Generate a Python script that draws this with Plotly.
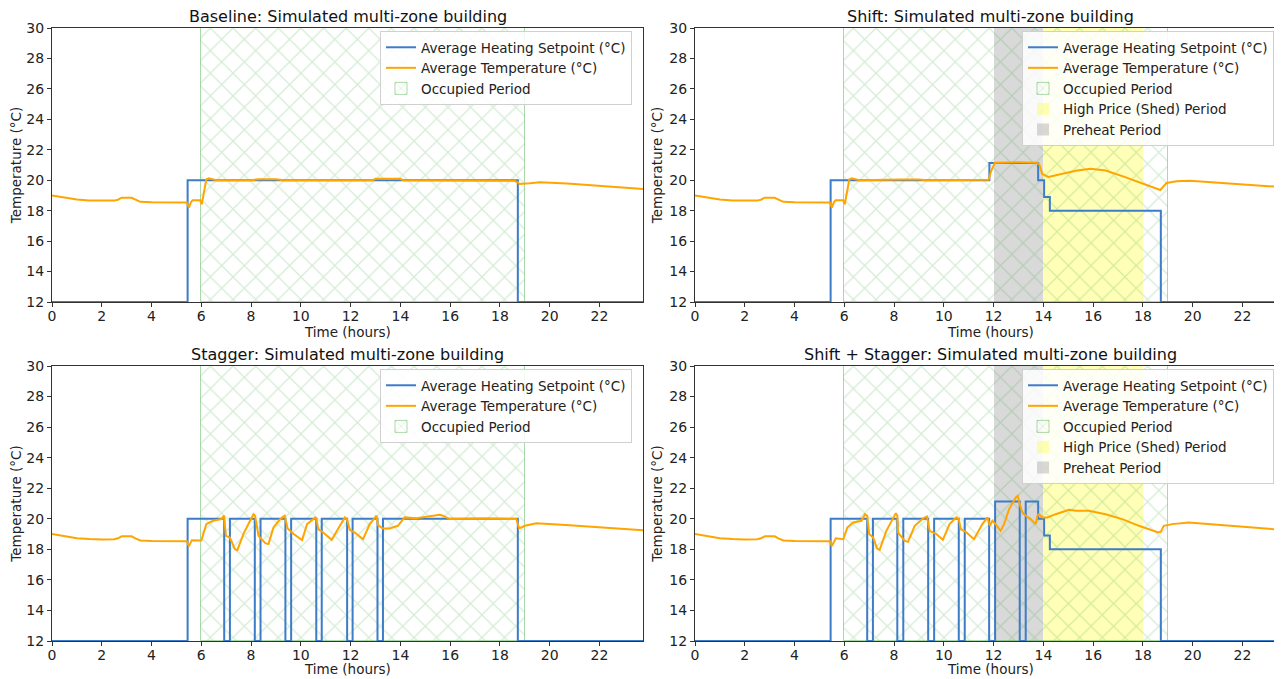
import plotly.graph_objects as go

# ---------------- data ----------------
panel_titles = [
    "Baseline: Simulated multi-zone building",
    "Shift: Simulated multi-zone building",
    "Stagger: Simulated multi-zone building",
    "Shift + Stagger: Simulated multi-zone building",
]
x_title = "Time (hours)"
y_title = "Temperature (°C)"

x_ticks = [0, 2, 4, 6, 8, 10, 12, 14, 16, 18, 20, 22]
y_ticks = [12, 14, 16, 18, 20, 22, 24, 26, 28, 30]

# periods (hours)
occupied_period = [6, 19]
shed_period = [14, 18]
preheat_period = [12, 14]

# Setpoint step series (value holds until next time)
baseline_sp_t = [0, 5.45, 18.72, 23.75]
baseline_sp_v = [12, 20, 12, 12]

shift_sp_t = [0, 5.45, 11.83, 13.79, 14.03, 14.26, 18.72, 23.75]
shift_sp_v = [12, 20, 21.13, 20, 18.9, 18.0, 12, 12]

stagger_sp_t = [0, 5.45, 6.92, 7.15, 8.15, 8.38, 9.38, 9.61, 10.62, 10.84,
                11.86, 12.08, 13.08, 13.3, 18.72, 23.75]
stagger_sp_v = [12, 20, 12, 20, 12, 20, 12, 20, 12, 20, 12, 20, 12, 20, 12, 12]

shiftstagger_sp_t = [0, 5.45, 6.92, 7.15, 8.13, 8.37, 9.37, 9.61, 10.6, 10.84,
                     11.82, 12.06, 13.05, 13.29, 13.79, 14.03, 14.26, 18.72, 23.75]
shiftstagger_sp_v = [12, 20, 12, 20, 12, 20, 12, 20, 12, 20, 12, 21.13, 12, 21.13,
                     20, 18.9, 18.0, 12, 12]

# Average temperature - night part shared by all scenarios
night_t = [0, 0.5, 1.0, 1.5, 2.0, 2.5, 2.65, 2.8, 3.2, 3.35, 3.55, 4.0, 4.5, 5.0, 5.42]
night_v = [19.0, 18.85, 18.73, 18.67, 18.64, 18.66, 18.72, 18.85, 18.85, 18.72,
           18.58, 18.55, 18.54, 18.54, 18.53]

# morning warm-up without staggering (baseline and shift)
morning_t = [5.5, 5.58, 5.65, 5.95, 6.02, 6.12, 6.2, 6.3, 6.45]
morning_v = [18.2, 18.55, 18.68, 18.68, 18.42, 19.4, 20.05, 20.12, 20.05]

baseline_day_t = [6.6, 8.0, 8.3, 9.0, 9.3, 12.0, 12.9, 13.0, 14.0, 14.1, 17.0, 17.5,
                  18.6, 18.72, 18.78, 19.2, 19.6, 20.7, 23.75]
baseline_day_v = [20.0, 20.0, 20.06, 20.06, 20.0, 20.0, 20.0, 20.09, 20.09, 20.0, 20.0,
                  19.96, 19.96, 19.85, 19.76, 19.8, 19.86, 19.78, 19.42]

shift_day_t = [6.6, 8.3, 9.0, 9.3, 11.8, 11.9, 12.05, 13.0, 13.75, 13.85, 13.95, 14.2,
               14.6, 15.3, 15.9, 16.5, 17.2, 17.9, 18.7, 18.8, 18.95, 19.35, 19.9, 23.75]
shift_day_v = [20.0, 20.05, 20.05, 20.0, 20.03, 20.6, 21.15, 21.18, 21.15, 21.0, 20.4,
               20.22, 20.36, 20.62, 20.75, 20.64, 20.25, 19.82, 19.36, 19.55, 19.82,
               19.93, 19.97, 19.53]

stagger_day_t = [5.5, 5.62, 6.0, 6.2, 6.47, 6.81, 6.91, 6.99, 7.15, 7.35,
                 7.45, 7.69, 7.96, 8.1, 8.16, 8.3, 8.57, 8.7, 8.9, 9.17,
                 9.35, 9.47, 9.71, 9.98, 10.05, 10.25, 10.58, 10.63, 10.7, 10.9,
                 11.24, 11.57, 11.77, 11.86, 11.97, 12.17, 12.5, 12.77, 13.04, 13.1,
                 13.3, 13.57, 13.9, 14.17, 14.64, 15.58, 15.71, 15.98, 17.32, 18.66,
                 18.77, 19.0, 19.47, 20.8, 23.75]
stagger_day_v = [18.19, 18.6, 18.58, 19.65, 19.87, 19.98, 20.2, 18.88, 18.77, 18.01,
                 17.95, 19.0, 19.87, 20.3, 20.2, 18.88, 18.4, 18.34, 19.43, 19.98,
                 20.2, 19.37, 19.0, 18.66, 18.6, 19.65, 20.09, 19.98, 19.32, 19.1,
                 18.62, 19.54, 20.09, 19.94, 19.26, 19.1, 18.66, 19.65, 20.2, 19.58,
                 19.37, 19.37, 19.54, 20.09, 20.04, 20.26, 20.2, 19.98, 20.02, 19.98,
                 19.37, 19.54, 19.7, 19.58, 19.25]

shiftstagger_day_t = [5.5, 5.66, 5.96, 6.12, 6.36, 6.69, 6.83, 6.92, 7.0, 7.16,
                      7.32, 7.42, 7.69, 7.96, 8.07, 8.13, 8.16, 8.43, 8.56, 8.83,
                      9.16, 9.32, 9.43, 9.7, 9.96, 10.23, 10.5, 10.6, 10.68, 10.88,
                      11.21, 11.55, 11.75, 11.85, 11.95, 12.08, 12.28, 12.42, 12.62, 12.89,
                      12.97, 13.05, 13.16, 13.29, 13.49, 13.69, 13.76, 13.82, 13.96, 14.16,
                      14.49, 15.03, 15.3, 15.83, 16.5, 17.17, 17.84, 18.62, 18.72, 18.84,
                      19.18, 19.84, 23.75]
shiftstagger_day_v = [18.22, 18.72, 18.66, 19.43, 19.76, 19.87, 20.3, 20.2, 19.0, 18.77,
                      18.05, 17.97, 19.21, 19.98, 20.37, 20.2, 19.1, 18.55, 18.49, 19.54,
                      20.02, 20.15, 19.21, 19.0, 18.62, 19.65, 20.09, 19.98, 19.32, 19.15,
                      18.66, 19.65, 20.09, 19.54, 19.87, 19.65, 19.21, 19.65, 20.63, 21.39,
                      21.5, 20.96, 20.41, 20.2, 19.98, 19.65, 20.2, 20.3, 20.09, 20.09,
                      20.3, 20.59, 20.52, 20.52, 20.3, 19.98, 19.54, 19.1, 19.15, 19.54,
                      19.65, 19.76, 19.25]

# ---------------- assemble ----------------
panels = [
    dict(sp_t=baseline_sp_t, sp_v=baseline_sp_v,
         t=night_t + morning_t + baseline_day_t, v=night_v + morning_v + baseline_day_v,
         dr=False),
    dict(sp_t=shift_sp_t, sp_v=shift_sp_v,
         t=night_t + morning_t + shift_day_t, v=night_v + morning_v + shift_day_v,
         dr=True),
    dict(sp_t=stagger_sp_t, sp_v=stagger_sp_v,
         t=night_t + stagger_day_t, v=night_v + stagger_day_v, dr=False),
    dict(sp_t=shiftstagger_sp_t, sp_v=shiftstagger_sp_v,
         t=night_t + shiftstagger_day_t, v=night_v + shiftstagger_day_v, dr=True),
]

BLUE = "#3d7cc9"
ORANGE = "#ffa500"
HATCH = "rgba(44,160,44,0.4)"
FONT = "DejaVu Sans"

# page is rendered with an 8px body margin -> work in page pixels and shift
OFF = 8
W, H = 1282, 679
ML, MR, MT, MB = 52 - OFF, 4, 28 - OFF, H - (641 - OFF)
PW, PH = W - ML - MR, H - MT - MB

def px_x(page_x):
    return (page_x - OFF - ML) / PW

def px_y(page_y):
    return (H - MB - (page_y - OFF)) / PH

x_domains = [[0, px_x(643)], [px_x(695), 1.0]]
y_domains = [[px_y(302), 1.0], [0, px_y(366)]]
x_title_page_y = [332, 669]

fig = go.Figure()
ymin, ymax = 12, 30

for i, p in enumerate(panels):
    r, c = divmod(i, 2)
    ax = "" if i == 0 else str(i + 1)
    xref, yref = "x" + ax, "y" + ax
    leg = "legend" + ax
    common = dict(xaxis=xref, yaxis=yref, legend=leg, hoverinfo="skip")

    if p["dr"]:
        fig.add_trace(go.Bar(
            x=[(shed_period[0] + shed_period[1]) / 2], y=[ymax - ymin], base=[ymin],
            width=[shed_period[1] - shed_period[0]],
            marker=dict(color="rgba(255,255,0,0.28)", line=dict(width=0)),
            name="High Price (Shed) Period", legendrank=4, **common))
        fig.add_trace(go.Bar(
            x=[(preheat_period[0] + preheat_period[1]) / 2], y=[ymax - ymin], base=[ymin],
            width=[preheat_period[1] - preheat_period[0]],
            marker=dict(color="rgba(128,128,128,0.3)", line=dict(width=0)),
            name="Preheat Period", legendrank=5, **common))

    fig.add_trace(go.Bar(
        x=[(occupied_period[0] + occupied_period[1]) / 2], y=[ymax - ymin], base=[ymin],
        width=[occupied_period[1] - occupied_period[0]],
        marker=dict(color="rgba(0,0,0,0)",
                    line=dict(color=HATCH, width=1),
                    pattern=dict(shape="x", fgcolor=HATCH, bgcolor="rgba(0,0,0,0)",
                                 size=16, solidity=0.15, fillmode="overlay")),
        name="Occupied Period", legendrank=3, **common))

    fig.add_trace(go.Scatter(
        x=p["sp_t"], y=p["sp_v"], mode="lines", line=dict(color=BLUE, width=2, shape="hv"),
        name="Average Heating Setpoint (°C)", legendrank=1, cliponaxis=False, **common))
    fig.add_trace(go.Scatter(
        x=p["t"], y=p["v"], mode="lines", line=dict(color=ORANGE, width=2),
        name="Average Temperature (°C)", legendrank=2, cliponaxis=False, **common))

    axis_style = dict(showline=True, mirror=True, linecolor="#333", linewidth=1,
                      ticks="outside", ticklen=4, tickcolor="#333", showgrid=False,
                      zeroline=False, layer="below traces",
                      tickfont=dict(family=FONT, size=14, color="#222"))
    fig.layout["xaxis" + ax] = dict(
        domain=x_domains[c], anchor=yref, range=[0, 23.75], tickvals=x_ticks,
        ticklabelstandoff=-3, **axis_style)
    fig.layout["yaxis" + ax] = dict(
        domain=y_domains[r], anchor=xref, range=[ymin, ymax], tickvals=y_ticks,
        title=dict(text=y_title, font=dict(family=FONT, size=13.5, color="#222"),
                   standoff=3),
        **axis_style)

    lx = px_x(380) if c == 0 else px_x(1022)
    ly = px_y(31) if r == 0 else px_y(369)
    fig.layout[leg] = dict(
        x=lx, y=ly, xanchor="left", yanchor="top",
        bgcolor="rgba(255,255,255,0.85)", bordercolor="#d0d0d0", borderwidth=1,
        font=dict(family=FONT, size=13.5, color="#222"), tracegroupgap=0,
        traceorder="normal")

    xd, yd = x_domains[c], y_domains[r]
    xc = (xd[0] + xd[1]) / 2
    fig.add_annotation(
        x=xc, y=yd[1], xref="paper", yref="paper",
        text=panel_titles[i], showarrow=False, xanchor="center", yanchor="bottom",
        yshift=0, font=dict(family=FONT, size=16, color="#111"))
    fig.add_annotation(
        x=xc, y=px_y(x_title_page_y[r]), xref="paper", yref="paper",
        text=x_title, showarrow=False, xanchor="center", yanchor="middle",
        font=dict(family=FONT, size=13.5, color="#222"))

fig.update_layout(
    width=W, height=H, barmode="overlay", bargap=0,
    margin=dict(l=ML, r=MR, t=MT, b=MB, autoexpand=False),
    paper_bgcolor="white", plot_bgcolor="white",
    font=dict(family=FONT, size=13, color="#222"),
)

fig.write_html("out.html")
